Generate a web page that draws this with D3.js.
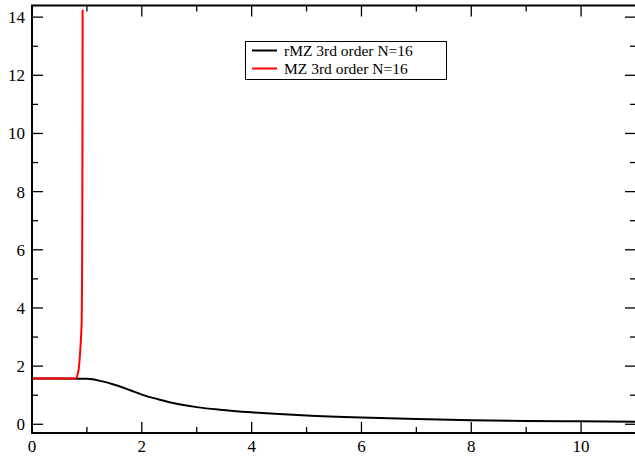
<!DOCTYPE html>
<html>
<head>
<meta charset="utf-8">
<script src="https://cdn.jsdelivr.net/npm/d3@7"></script>
<style>
  html, body { margin: 0; padding: 0; background: #fff; }
  svg { display: block; }
  svg text { font-family: "Liberation Serif", "DejaVu Serif", serif !important; }
</style>
</head>
<body>
<svg id="chart" width="635" height="456"></svg>
<script>
// rMZ series (x, value)
const rmzX = [0, 0.5, 0.9, 1.0, 1.1, 1.2, 1.36, 1.5, 1.6, 1.8, 2.0, 2.3, 2.57, 3.0, 3.42, 4.0, 4.5, 5.0, 6.0, 7.0, 8.0, 9.0, 10.0, 11.0];
const rmzY = [1.571, 1.571, 1.568, 1.562, 1.545, 1.51, 1.44, 1.36, 1.30, 1.16, 1.02, 0.86, 0.73, 0.59, 0.50, 0.41, 0.35, 0.30, 0.23, 0.18, 0.14, 0.115, 0.10, 0.085];
// MZ series (x, value) -- diverges just below x = 1
const mzX = [0, 0.76, 0.80, 0.83, 0.85, 0.87, 0.89, 0.905, 0.912, 0.917, 0.92, 0.922];
const mzY = [1.571, 1.571, 1.585, 1.70, 1.90, 2.30, 2.90, 3.60, 5.0, 8.0, 11.0, 14.25];

const seriesNames = ["rMZ 3rd order N=16", "MZ 3rd order N=16"];
const seriesColors = ["#000000", "#ff0000"];

const xTicks = [0, 2, 4, 6, 8, 10];
const yTicks = [0, 2, 4, 6, 8, 10, 12, 14];
const xMinor = [1, 3, 5, 7, 9, 11];
const yMinor = [1, 3, 5, 7, 9, 11, 13];

const xDomain = [0, 11];
const yDomain = [-0.3, 14.4];

const svg = d3.select("#chart");
const L = 32, R = 636, T = 5.5, B = 433;
const serif = "'Liberation Serif', 'DejaVu Serif', serif";

const x = d3.scaleLinear().domain(xDomain).range([L, R]);
const y = d3.scaleLinear().domain(yDomain).range([B, T]);

svg.append("defs").append("clipPath").attr("id", "plotClip")
  .append("rect").attr("x", L).attr("y", T).attr("width", R - L).attr("height", B - T);

const series = [
  { name: seriesNames[0], color: seriesColors[0], pts: rmzX.map((v, i) => [v, rmzY[i]]) },
  { name: seriesNames[1], color: seriesColors[1], pts: mzX.map((v, i) => [v, mzY[i]]) }
];

const line = d3.line().x(d => x(d[0])).y(d => y(d[1])).curve(d3.curveMonotoneX);

const plot = svg.append("g").attr("clip-path", "url(#plotClip)");
// draw rMZ first, MZ on top
series.forEach(s => {
  plot.append("path").datum(s.pts)
    .attr("fill", "none").attr("stroke", s.color)
    .attr("stroke-width", 2).attr("d", line);
});

// ticks pointing inward on all four sides
const majorLen = 11, minorLen = 6;
const tickG = svg.append("g").attr("stroke", "#000").attr("stroke-width", 1.3);
function ticksX(vals, len) {
  vals.forEach(v => {
    tickG.append("line").attr("x1", x(v)).attr("x2", x(v)).attr("y1", B).attr("y2", B - len);
    tickG.append("line").attr("x1", x(v)).attr("x2", x(v)).attr("y1", T).attr("y2", T + len);
  });
}
function ticksY(vals, len) {
  vals.forEach(v => {
    tickG.append("line").attr("y1", y(v)).attr("y2", y(v)).attr("x1", L).attr("x2", L + len);
    tickG.append("line").attr("y1", y(v)).attr("y2", y(v)).attr("x1", R).attr("x2", R - len);
  });
}
ticksX(xTicks, majorLen); ticksX(xMinor, minorLen);
ticksY(yTicks, majorLen); ticksY(yMinor, minorLen);

// frame
svg.append("rect").attr("x", L).attr("y", T).attr("width", R - L).attr("height", B - T)
  .attr("fill", "none").attr("stroke", "#000").attr("stroke-width", 2);

// tick labels
svg.append("g").selectAll("text").data(xTicks).join("text")
  .style("font-family", serif).style("font-size", "17px")
  .attr("x", d => x(d)).attr("y", 452).attr("text-anchor", "middle")
  .text(d => d);
svg.append("g").selectAll("text").data(yTicks).join("text")
  .style("font-family", serif).style("font-size", "17px")
  .attr("x", 25).attr("y", d => y(d)).attr("dy", "0.35em").attr("text-anchor", "end")
  .text(d => d);

// legend
const lg = svg.append("g");
lg.append("rect").attr("x", 245.5).attr("y", 41.5).attr("width", 201).attr("height", 38)
  .attr("fill", "#fff").attr("stroke", "#000").attr("stroke-width", 1);
series.forEach((s, i) => {
  const ly = 50.5 + i * 18;
  lg.append("line").attr("x1", 252).attr("x2", 277).attr("y1", ly).attr("y2", ly)
    .attr("stroke", s.color).attr("stroke-width", 2);
  lg.append("text").attr("x", 284).attr("y", ly).attr("dy", "0.35em")
    .style("font-family", serif).style("font-size", "15.5px")
    .text(s.name);
});
</script>
</body>
</html>
